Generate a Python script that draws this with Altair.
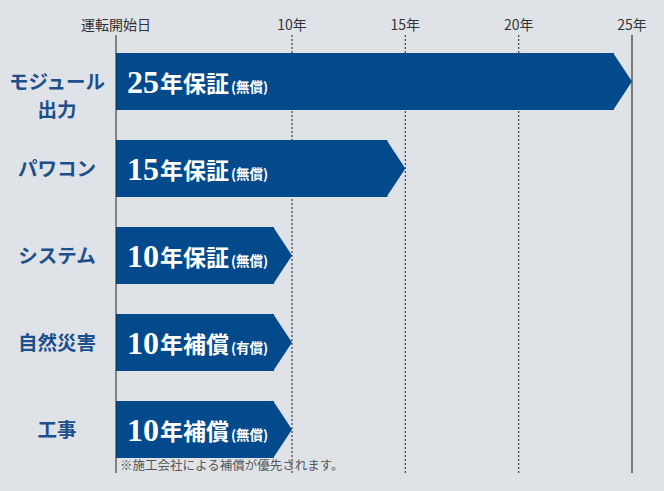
import altair as alt
import pandas as pd

# ---- data ----
categories = ["モジュール\n出力", "パワコン", "システム", "自然災害", "工事"]
years = [25, 15, 10, 10, 10]
numbers = ["25", "15", "10", "10", "10"]
kinds = ["年保証", "年保証", "年保証", "年補償", "年補償"]
costs = ["(無償)", "(無償)", "(無償)", "(有償)", "(無償)"]

tick_years = [0, 10, 15, 20, 25]
tick_labels = ["運転開始日", "10年", "15年", "20年", "25年"]
tick_styles = ["start", "dash", "dash", "dash", "end"]

footnote = ["※施工会社による補償が優先されます。"]

# ---- tables ----
df = pd.DataFrame({"cat": categories, "years": years, "num": numbers,
                   "kind": kinds, "cost": costs, "zero": [0] * len(categories)})
ticks = pd.DataFrame({"t": tick_years, "label": tick_labels, "style": tick_styles})
note = pd.DataFrame({"text": footnote, "zero": [0]})

BLUE = "#034a8c"
LABEL_BLUE = "#1d4f8b"
JP = "Noto Sans CJK JP"
W, H = 548, 435

xscale = alt.Scale(domain=[0, 10, 25], range=[0, 176, 516], nice=False)
yscale = alt.Scale(domain=categories, paddingInner=0.345, paddingOuter=0.1725)

X = lambda f: alt.X(f, scale=xscale, axis=None)
Y = alt.Y("cat:N", scale=yscale, axis=None)

dash_rules = alt.Chart(ticks).transform_filter("datum.style == 'dash'").mark_rule(
    color="#404040", strokeDash=[2, 2], strokeWidth=1.2
).encode(x=X("t:Q"), y=alt.value(-3), y2=alt.value(H))

end_rule = alt.Chart(ticks).transform_filter("datum.style == 'end'").mark_rule(
    color="#7a7a7a", strokeWidth=2
).encode(x=X("t:Q"), y=alt.value(-3), y2=alt.value(H))

bodies = alt.Chart(df).mark_bar(color=BLUE, x2Offset=-18).encode(
    x=X("zero:Q"), x2="years:Q", y=Y
)

tips = alt.Chart(df).mark_point(
    shape="M-0.66,-1L0,0L-0.66,1Z", filled=True, size=3249, color=BLUE,
    opacity=1, strokeWidth=0
).encode(x=X("years:Q"), y=Y)

start_rule = alt.Chart(ticks).transform_filter("datum.style == 'start'").mark_rule(
    color="#222222", strokeWidth=1
).encode(x=X("t:Q"), y=alt.value(-3), y2=alt.value(H))

num_text = alt.Chart(df).mark_text(
    font="Liberation Serif", fontWeight="bold", fontSize=32, color="white",
    align="left", baseline="alphabetic", dx=11, dy=11.5
).encode(x=X("zero:Q"), y=Y, text="num:N")

kind_text = alt.Chart(df).mark_text(
    font=JP, fontWeight="bold", fontSize=23, color="white",
    align="left", baseline="alphabetic", dx=44, dy=10
).encode(x=X("zero:Q"), y=Y, text="kind:N")

cost_text = alt.Chart(df).mark_text(
    font=JP, fontWeight="bold", fontSize=13.5, color="white",
    align="left", baseline="alphabetic", dx=115, dy=10.5
).encode(x=X("zero:Q"), y=Y, text="cost:N")

cat_text = alt.Chart(df).mark_text(
    font=JP, fontWeight="bold", fontSize=19.5, color=LABEL_BLUE,
    align="center", baseline="middle", lineBreak="\n", lineHeight=28, dy=1.5
).encode(x=alt.value(-59), y=Y, text="cat:N")

top_text = alt.Chart(ticks).mark_text(
    font=JP, fontSize=14, color="#333333", align="center", baseline="middle"
).encode(x=X("t:Q"), y=alt.value(-12), text="label:N")

note_text = alt.Chart(note).mark_text(
    font=JP, fontSize=12.5, color="#555555", align="left", baseline="middle", dx=4
).encode(x=X("zero:Q"), y=alt.value(H - 7), text="text:N")

chart = alt.layer(
    dash_rules, end_rule, bodies, tips, start_rule,
    num_text, kind_text, cost_text, cat_text, top_text, note_text
).properties(
    width=W, height=H,
    autosize=alt.AutoSizeParams(type="none"),
    padding={"left": 116, "top": 38, "right": 0, "bottom": 18},
    background="#dfe3e7",
).configure_view(stroke=None)

chart.save("out.html", embed_options={"renderer": "svg", "actions": False})
